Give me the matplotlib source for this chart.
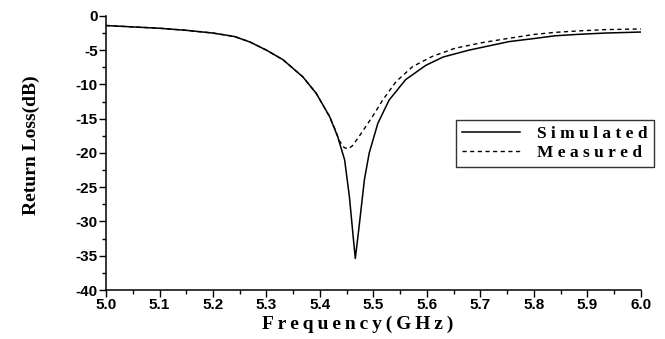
import matplotlib
matplotlib.use("Agg")
import matplotlib.pyplot as plt
from matplotlib.ticker import MultipleLocator

freq_sim = [5.00, 5.05, 5.10, 5.15, 5.20, 5.24, 5.269, 5.30, 5.331, 5.368, 5.393, 5.418,
            5.433, 5.446, 5.455, 5.462, 5.466, 5.473, 5.483, 5.492, 5.508, 5.529, 5.56,
            5.598, 5.63, 5.678, 5.72, 5.753, 5.80, 5.839, 5.88, 5.932, 6.00]
sim = [-1.4, -1.6, -1.8, -2.1, -2.5, -3.0, -3.8, -5.0, -6.4, -8.9, -11.3, -14.7,
       -17.6, -21.0, -26.4, -32.2, -35.4, -30.8, -23.9, -20.0, -15.7, -12.3, -9.3,
       -7.2, -6.0, -5.0, -4.3, -3.75, -3.3, -2.9, -2.7, -2.5, -2.35]

freq_meas = [5.00, 5.05, 5.10, 5.15, 5.20, 5.24, 5.269, 5.30, 5.331, 5.368, 5.393, 5.418,
             5.428, 5.436, 5.445, 5.452, 5.46, 5.473, 5.498, 5.517, 5.542, 5.573, 5.61,
             5.653, 5.703, 5.75, 5.80, 5.839, 5.88, 5.932, 6.00]
meas = [-1.4, -1.6, -1.8, -2.1, -2.5, -3.0, -3.8, -5.0, -6.4, -8.9, -11.3, -14.7,
        -16.5, -18.2, -19.2, -19.4, -19.0, -17.6, -14.7, -12.3, -9.6, -7.4, -5.9,
        -4.7, -3.9, -3.3, -2.7, -2.4, -2.2, -2.0, -1.9]

xticks = [5.0, 5.1, 5.2, 5.3, 5.4, 5.5, 5.6, 5.7, 5.8, 5.9, 6.0]
yticks = [0, -5, -10, -15, -20, -25, -30, -35, -40]

fig = plt.figure(figsize=(6.65, 3.39), dpi=100)
ax = fig.add_axes([0.1594, 0.1445, 0.8045, 0.8085])

ax.plot(freq_sim, sim, color="black", lw=1.1, label="Simulated")
ax.plot(freq_meas, meas, color="black", lw=1.0, ls=(0, (3, 2.5)), label="Measured")

ax.set_xlim(5.0, 6.0)
ax.set_ylim(-40, 0)
ax.set_xticks(xticks)
ax.set_yticks(yticks)
ax.set_xticklabels([f"{t:.1f}" for t in xticks], fontfamily="Liberation Sans",
                   fontweight="bold", fontsize=11)
ax.set_yticklabels([str(t) for t in yticks], fontfamily="Liberation Sans",
                   fontweight="bold", fontsize=11)
ax.xaxis.set_minor_locator(MultipleLocator(0.05))
ax.yaxis.set_minor_locator(MultipleLocator(2.5))
ax.tick_params(which="major", direction="out", length=5, width=1, pad=1)
ax.tick_params(which="minor", direction="out", length=3, width=1)
for s in ["top", "right"]:
    ax.spines[s].set_visible(False)
for s in ["left", "bottom"]:
    ax.spines[s].set_linewidth(1.1)

ts = "\u2009"
ax.set_xlabel(ts.join("Frequency(GHz)"), fontfamily="Liberation Serif",
              fontweight="bold", fontsize=14)
ax.xaxis.set_label_coords(0.47, -0.095)
ax.set_ylabel("Return Loss(dB)", fontfamily="Liberation Serif", fontweight="bold",
              fontsize=14)
ax.yaxis.set_label_coords(-0.123, 0.53)

ls = "\u2005"
leg = fig.legend(loc="upper left", bbox_to_anchor=(0.686, 0.646), frameon=True,
                 fancybox=False, edgecolor="black", handlelength=3.3, borderpad=0.35,
                 borderaxespad=0.0, labelspacing=0.15, handletextpad=1.0,
                 prop={"family": "Liberation Serif", "weight": "bold", "size": 12.5})
leg.get_frame().set_linewidth(1.0)
leg.texts[0].set_text(ls.join("Simulated"))
leg.texts[1].set_text(ls.join("Measured"))

fig.savefig("out.png", dpi=100)
